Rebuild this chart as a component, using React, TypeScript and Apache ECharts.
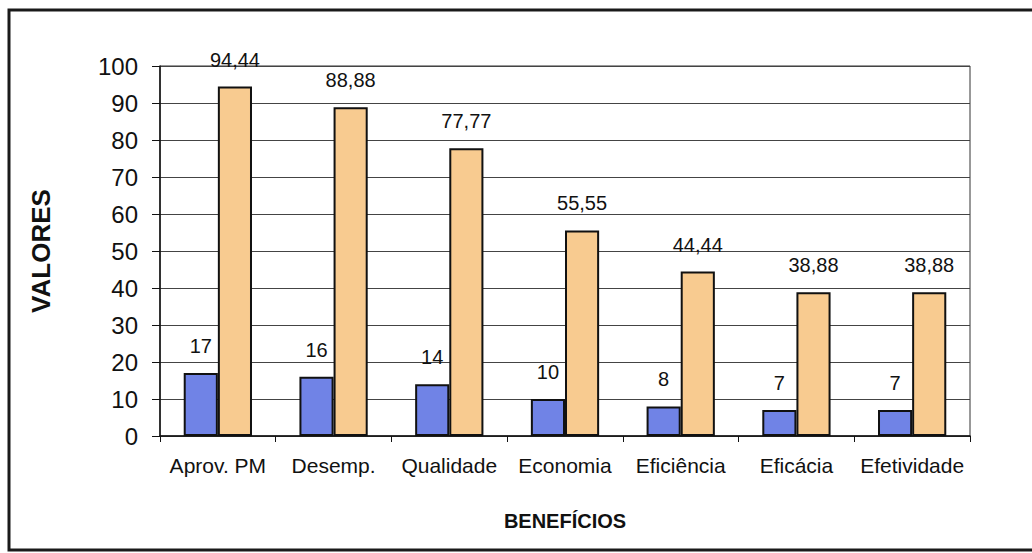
import React, { useEffect, useRef } from "react";
import * as echarts from "echarts";

const categories = ["Aprov. PM", "Desemp.", "Qualidade", "Economia", "Eficiência", "Eficácia", "Efetividade"];
const seriesA = [17, 16, 14, 10, 8, 7, 7];
const seriesB = [94.44, 88.88, 77.77, 55.55, 44.44, 38.88, 38.88];
const yTicks = { min: 0, max: 100, interval: 10 };

const fmt = (v: number) => (Number.isInteger(v) ? String(v) : v.toFixed(2).replace(".", ","));

export default function App() {
  const ref = useRef<HTMLDivElement>(null);
  useEffect(() => {
    const chart = echarts.init(ref.current!, null, { renderer: "svg" });
    const font = "'Liberation Sans', Arial, sans-serif";
    const labelCommon = {
      show: true,
      position: "top" as const,
      distance: 17,
      fontFamily: font,
      fontSize: 20,
      color: "#111",
      formatter: (p: any) => fmt(p.value),
    };
    chart.setOption({
      animation: false,
      backgroundColor: "#ffffff",
      textStyle: { fontFamily: font },
      graphic: [
        {
          type: "polyline",
          shape: { points: [[1032, 10], [9, 10], [9, 550], [1032, 550]] },
          style: { fill: "none", stroke: "#1a1a1a", lineWidth: 3 },
          silent: true,
        },
      ],
      grid: {
        left: 160,
        right: 62,
        top: 66,
        bottom: 117,
        show: true,
        borderColor: "#333",
        borderWidth: 1,
      },
      xAxis: {
        type: "category",
        data: categories,
        name: "BENEFÍCIOS",
        nameLocation: "middle",
        nameGap: 75,
        nameTextStyle: { fontFamily: font, fontSize: 20, fontWeight: "bold", color: "#111" },
        axisLine: { lineStyle: { color: "#111", width: 1.5 } },
        axisTick: { show: true, length: 6, lineStyle: { color: "#111" } },
        axisLabel: { fontFamily: font, fontSize: 21, color: "#111", margin: 19, interval: 0 },
      },
      yAxis: {
        type: "value",
        min: yTicks.min,
        max: yTicks.max,
        interval: yTicks.interval,
        name: "VALORES",
        nameLocation: "middle",
        nameGap: 106,
        nameRotate: 90,
        nameTextStyle: { fontFamily: font, fontSize: 26, fontWeight: "bold", color: "#111" },
        axisLine: { show: true, lineStyle: { color: "#111", width: 1.5 } },
        axisTick: { show: true, length: 8, lineStyle: { color: "#111" } },
        axisLabel: { fontFamily: font, fontSize: 24, color: "#111", margin: 22 },
        splitLine: { show: true, lineStyle: { color: "#444", width: 1 } },
      },
      series: [
        {
          type: "bar",
          data: seriesA,
          barGap: "0%",
          barCategoryGap: "41%",
          itemStyle: { color: "#7083e6", borderColor: "#111", borderWidth: 2 },
          label: labelCommon,
        },
        {
          type: "bar",
          data: seriesB,
          itemStyle: { color: "#f8cb90", borderColor: "#111", borderWidth: 2 },
          label: labelCommon,
        },
      ],
    });
    return () => chart.dispose();
  }, []);
  return (
    <div
      ref={ref}
      style={{ position: "absolute", left: 0, top: 0, width: 1032, height: 553 }}
    />
  );
}
